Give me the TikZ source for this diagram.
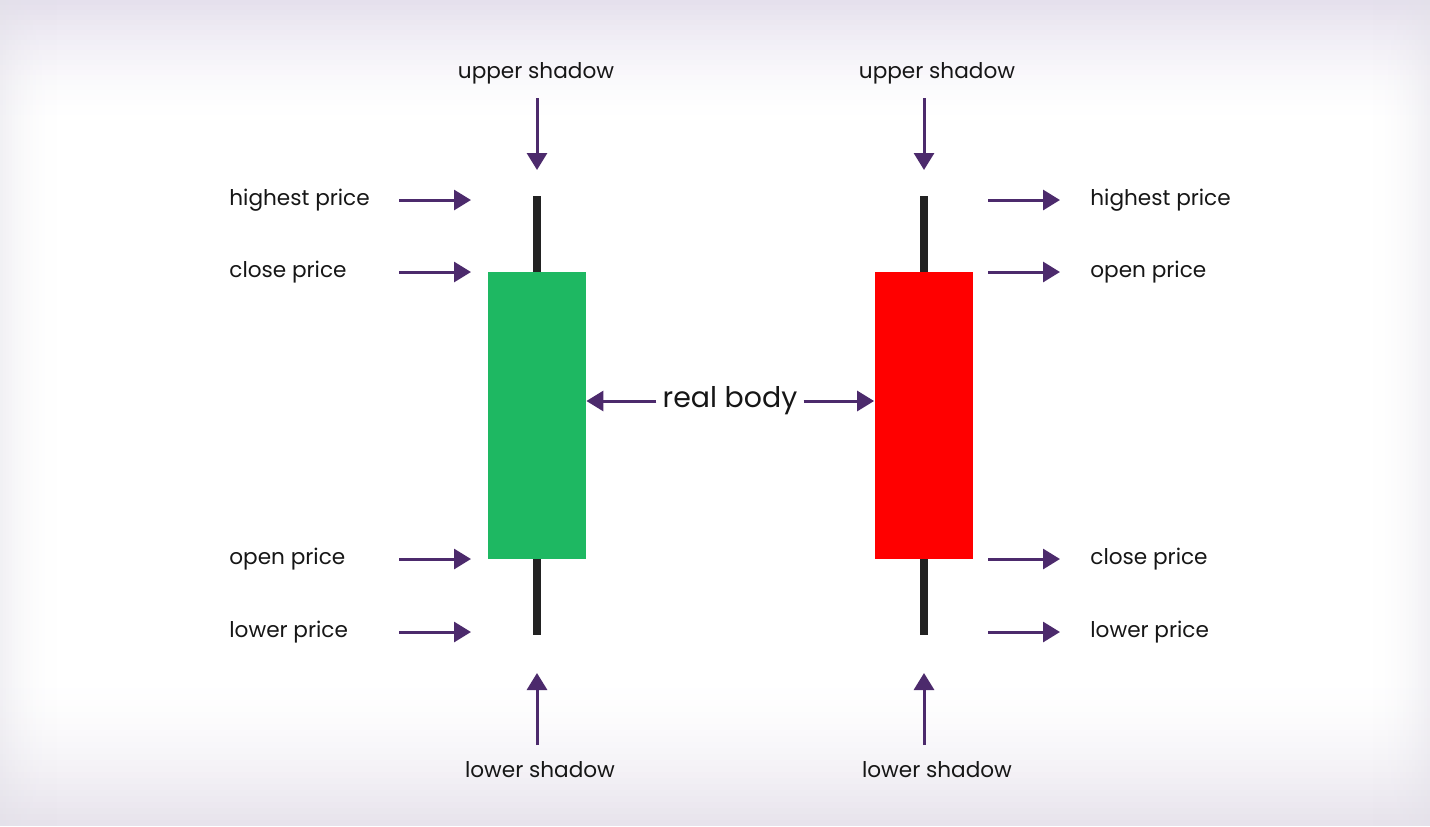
\documentclass[tikz,border=0pt]{standalone}
\usepackage{fontspec}
\setmainfont{Poppins}
\usetikzlibrary{arrows.meta}

\definecolor{arrowpurple}{RGB}{76,42,108}
\definecolor{bullgreen}{RGB}{30,184,98}
\definecolor{bearred}{RGB}{255,0,0}
\definecolor{wickgray}{RGB}{34,34,34}
\definecolor{labeltext}{RGB}{22,22,22}
\definecolor{bgtop}{RGB}{229,224,237}
\definecolor{bgbottom}{RGB}{231,227,236}
\definecolor{sidegray}{RGB}{226,224,232}

\tikzset{
  pointer/.style={draw=arrowpurple, line width=1.5pt, -{Triangle[length=8.5pt,width=10pt]}},
  pricelabel/.style={anchor=west, inner sep=0pt, text=labeltext, font=\fontsize{10.8}{13}\selectfont, text height=1.4ex, text depth=0.35ex},
  shadowlabel/.style={inner sep=0pt, text=labeltext, font=\fontsize{10.8}{13}\selectfont, text height=1.4ex, text depth=0.35ex},
  wick/.style={draw=wickgray, line width=4pt},
  candle/.style={inner sep=0pt, minimum width=49pt, minimum height=143.5pt},
}

\begin{document}
\begin{tikzpicture}[x=0.5pt, y=-0.5pt]
			%%%%% background %%%%%
			\useasboundingbox (0,0) rectangle (1430,826);
			\fill[white] (0,0) rectangle (1430,826);
			\foreach \i in {0,...,23}{
				\pgfmathsetmacro\mix{100*(1-\i/24)^1.6}
				\fill[bgtop!\mix!white] (0,5*\i) rectangle (1430,5*\i+5.5);
				\fill[bgbottom!\mix!white] (0,826-6*\i) rectangle (1430,819.5-6*\i);
			}
			\foreach \i in {0,...,19}{
				\pgfmathsetmacro\op{0.45*(1-\i/20)^2}
				\fill[sidegray, opacity=\op] (3*\i,0) rectangle (3*\i+3,826);
				\fill[sidegray, opacity=\op] (1430-3*\i,0) rectangle (1427-3*\i,826);
			}
			
			%%%%% green candle %%%%%
			\coordinate (ghigh) at (537,196);
			\coordinate (glow) at (537,635);
			\draw[wick] (ghigh) -- (glow);
			\node[candle, fill=bullgreen] (gbody) at (537,415.5) {};
			
			\foreach \lbl/\yy in {highest price/200, close price/272, open price/559, lower price/632}{
				\node[pricelabel] (gl\yy) at (229,\yy) {\lbl};
				\coordinate (gs\yy) at (399,\yy);
				\coordinate (ge\yy) at (471,\yy);
				\draw[pointer] (gs\yy) -- (ge\yy);
			}
			
			\node[shadowlabel] (gupper) at (536,73) {upper shadow};
			\coordinate (gus) at (537,98);
			\coordinate (gue) at (537,170);
			\draw[pointer] (gus) -- (gue);
			
			\node[shadowlabel] (glower) at (540,772) {lower shadow};
			\coordinate (gls) at (537,745);
			\coordinate (gle) at (537,673);
			\draw[pointer] (gls) -- (gle);
			
			%%%%% red candle %%%%%
			\coordinate (rhigh) at (924,196);
			\coordinate (rlow) at (924,635);
			\draw[wick] (rhigh) -- (rlow);
			\node[candle, fill=bearred] (rbody) at (923.5,415.5) {};
			
			\foreach \lbl/\yy in {highest price/200, open price/272, close price/559, lower price/632}{
				\node[pricelabel] (rl\yy) at (1090,\yy) {\lbl};
				\coordinate (rs\yy) at (988,\yy);
				\coordinate (re\yy) at (1060,\yy);
				\draw[pointer] (rs\yy) -- (re\yy);
			}
			
			\node[shadowlabel] (rupper) at (937,73) {upper shadow};
			\coordinate (rus) at (924,98);
			\coordinate (rue) at (924,170);
			\draw[pointer] (rus) -- (rue);
			
			\node[shadowlabel] (rlower) at (937,772) {lower shadow};
			\coordinate (rls) at (924,745);
			\coordinate (rle) at (924,673);
			\draw[pointer] (rls) -- (rle);
			
			%%%%% real body %%%%%
			\node[inner sep=3pt, text=labeltext, font=\fontsize{14.2}{17}\selectfont] (realbody) at (730,401) {real body};
			\draw[pointer] (realbody.west) -- (gbody.east |- realbody.west);
			\draw[pointer] (realbody.east) -- (rbody.west |- realbody.east);
			
		\end{tikzpicture}
\end{document}
